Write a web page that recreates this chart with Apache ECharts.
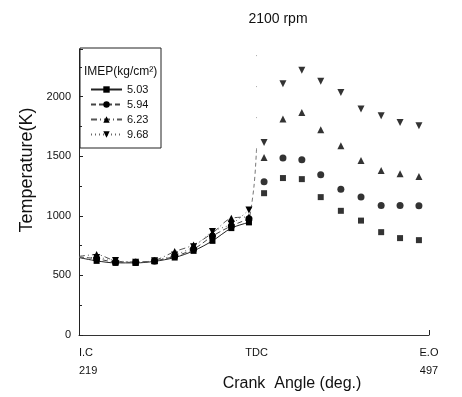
<!DOCTYPE html>
<html>
<head>
<meta charset="utf-8">
<script src="https://cdn.jsdelivr.net/npm/echarts@6/dist/echarts.min.js"></script>
<style>
  html, body { margin: 0; padding: 0; background: #fff; }
  #chart { width: 462px; height: 397px; }
</style>
</head>
<body>
<div id="chart"></div>
<script>
// Crank angles (deg.) of the plotted points; I.C = 219, TDC = 360, E.O = 497
const angles = [233, 248, 264, 279, 295, 310, 325, 340, 354, 366, 381, 396, 411, 427, 443, 459, 474, 489];

// Gas temperature (K) for each IMEP (kg/cm²)
const imepLabels = ['5.03', '5.94', '6.23', '9.68'];
const temp503 = [622, 605, 605, 618, 650, 706, 790, 897, 945, 1190, 1317, 1308, 1157, 1042, 960, 863, 813, 796];
const temp594 = [640, 612, 610, 622, 660, 720, 830, 915, 975, 1285, 1485, 1471, 1345, 1224, 1157, 1087, 1087, 1084];
const temp623 = [675, 622, 612, 626, 700, 756, 855, 980, 990, 1490, 1813, 1868, 1723, 1588, 1465, 1381, 1353, 1331];
const temp968 = [650, 625, 610, 624, 672, 740, 868, 930, 1050, 1615, 2109, 2221, 2129, 2036, 1897, 1840, 1784, 1756];

// Temperature at intake close where each compression curve starts
const curveStart = [650, 655, 660, 650];

// Steep rise at the start of combustion near TDC
const riseAngles = [354, 358, 360];
const riseTemps = [945, 1250, 1560];
const traceAngles = [360, 360];
const traceTemps = [1560, 2380];

// Axis ranges and marked crank angles
const angleIC = 219, angleTDC = 360, angleEO = 497;
const xTickNames = { 219: 'I.C\n219', 360: 'TDC', 497: 'E.O\n497' };
const tempMax = 2400;

const allTemps = [temp503, temp594, temp623, temp968];
const symbols = ['rect', 'circle', 'triangle', 'triangle'];
const symbolRotates = [0, 0, 0, 180];
const symbolSizes = [6, 7, 7, 7];
const lineTypes = ['solid', [5, 3], [6, 3, 1, 3], [1, 3]];
const lineColors = ['#222', '#444', '#555', '#666'];

const FONT = 'Liberation Sans, Arial, sans-serif';

const series = [];
imepLabels.forEach((name, i) => {
  const temps = allTemps[i];
  const compression = [{ value: [angleIC, curveStart[i]], symbol: 'none' }];
  const expansion = [];
  angles.forEach((a, k) => {
    if (a < angleTDC) compression.push([a, temps[k]]);
    else expansion.push([a, temps[k]]);
  });
  series.push({
    name: name,
    type: 'line',
    smooth: 0.3,
    data: compression,
    symbol: symbols[i],
    symbolRotate: symbolRotates[i],
    symbolSize: symbolSizes[i],
    showAllSymbol: true,
    itemStyle: { color: '#000' },
    lineStyle: { color: lineColors[i], width: 1, type: lineTypes[i] },
    z: 3
  });
  series.push({
    name: name,
    type: 'scatter',
    data: expansion,
    symbol: symbols[i],
    symbolRotate: symbolRotates[i],
    symbolSize: symbolSizes[i],
    itemStyle: { color: '#000' },
    z: 3
  });
});

series.push({
  type: 'line',
  data: riseAngles.map((a, k) => [a, riseTemps[k]]),
  symbol: 'none',
  smooth: 0.4,
  lineStyle: { color: '#777', width: 1, type: [4, 3] },
  z: 2
});
series.push({
  type: 'line',
  data: traceAngles.map((a, k) => [a, traceTemps[k]]),
  symbol: 'none',
  lineStyle: { color: '#aaa', width: 1, type: [1, 30] },
  z: 1
});

const chart = echarts.init(document.getElementById('chart'), null, { renderer: 'canvas' });
chart.setOption({
  backgroundColor: '#fff',
  animation: false,
  title: {
    text: '2100 rpm',
    left: 273,
    top: 7,
    textAlign: 'center',
    textStyle: { fontFamily: FONT, fontSize: 14, fontWeight: 'normal', color: '#111' }
  },
  grid: { left: 79, right: 33, top: 49, bottom: 62 },
  xAxis: {
    type: 'value',
    min: angleIC,
    max: angleEO,
    splitLine: { show: false },
    axisLine: { lineStyle: { color: '#333', width: 1 } },
    axisTick: { show: true, inside: true, length: 5, customValues: [angleEO], lineStyle: { color: '#222' } },
    axisLabel: {
      customValues: [angleIC, angleTDC, angleEO],
      formatter: v => xTickNames[v] || '',
      alignMinLabel: 'left',
      alignMaxLabel: 'center',
      margin: 9,
      lineHeight: 18,
      fontFamily: FONT,
      fontSize: 11,
      color: '#111'
    }
  },
  yAxis: {
    type: 'value',
    min: 0,
    max: tempMax,
    interval: 500,
    splitLine: { show: false },
    axisLine: { show: true, lineStyle: { color: '#222', width: 1 } },
    axisTick: { show: true, inside: true, length: 4, lineStyle: { color: '#222' } },
    minorTick: { show: true, splitNumber: 2, length: 3, lineStyle: { color: '#222' } },
    axisLabel: {
      showMaxLabel: false,
      formatter: v => (v % 500 === 0 ? String(v) : ''),
      margin: 8,
      fontFamily: FONT,
      fontSize: 11,
      color: '#111'
    }
  },
  legend: {
    data: imepLabels,
    orient: 'vertical',
    left: 85,
    top: 78,
    itemWidth: 31,
    itemHeight: 8,
    itemGap: 2,
    textStyle: { fontFamily: FONT, fontSize: 11, lineHeight: 13, color: '#111' }
  },
  graphic: [
    {
      type: 'rect',
      shape: { x: 80, y: 48, width: 81, height: 100 },
      style: { fill: 'none', stroke: '#222', lineWidth: 1 },
      z: 10
    },
    {
      type: 'text',
      x: 84, y: 72,
      style: {
        text: 'IMEP(kg/cm²)',
        fontFamily: FONT, fontSize: 12, fill: '#111',
        textVerticalAlign: 'middle'
      },
      z: 10
    },
    {
      type: 'text',
      x: 27, y: 170,
      rotation: Math.PI / 2,
      style: {
        text: 'Temperature(K)',
        fontFamily: FONT, fontSize: 18, fill: '#111',
        textAlign: 'center', textVerticalAlign: 'middle'
      }
    },
    {
      type: 'text',
      x: 292, y: 384,
      style: {
        text: 'Crank  Angle (deg.)',
        fontFamily: FONT, fontSize: 16, fill: '#111',
        textAlign: 'center', textVerticalAlign: 'middle'
      }
    }
  ],
  series: series
});
</script>
</body>
</html>
